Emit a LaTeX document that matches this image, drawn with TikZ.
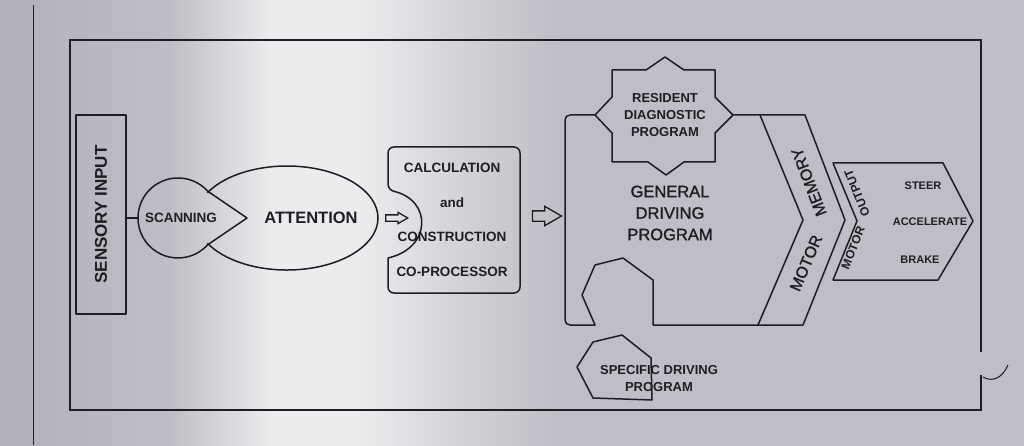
\documentclass[tikz,border=0pt]{standalone}
\usepackage{fontspec}
\setmainfont{Liberation Sans}
\newfontfamily\semibold{Liberation Sans}[FakeBold=1.3]
\usepackage{xcolor}
\usepackage{tikz}
\usetikzlibrary{positioning}
\usetikzlibrary{shapes.arrows}

\definecolor{ink}{RGB}{30,30,34}
\definecolor{bgA}{RGB}{176,176,186}
\definecolor{bgB}{RGB}{190,190,198}
\definecolor{bgC}{RGB}{236,236,238}
\definecolor{bgD}{RGB}{210,210,216}
\definecolor{bgE}{RGB}{190,190,198}

\tikzset{
  outline/.style={draw=ink, line width=1.5pt, line join=round},
  lbl/.style={text=ink, inner sep=0pt, align=center},
  hollow/.style={single arrow, draw=ink, line width=1.3pt, inner xsep=0pt, single arrow tip angle=60}
}

\begin{document}
\begin{tikzpicture}[x=1pt,y=1pt]
\useasboundingbox (0,0) rectangle (1024,445);

% Draw background
\fill[bgE] (-10,-10) rectangle (1034,455);
\shade[left color=bgA, right color=bgB] (-10,-10) rectangle (171,455);
\shade[left color=bgB, right color=bgC] (170,-10) rectangle (271,455);
\fill[bgC] (270,-10) rectangle (361,455);
\shade[left color=bgC, right color=bgD] (360,-10) rectangle (461,455);
\shade[left color=bgD, right color=bgE] (460,-10) rectangle (561,455);

% page edge and frame
\draw[ink, line width=1pt] (33,0) -- (33,440);
\draw[ink, line width=1.2pt] (981,93) -- (981,405) -- (70,405) -- (70,35) -- (981,35) -- (981,70);
\draw[ink, line width=1pt] (983,68) .. controls (993,62) and (1003,68) .. (1008,80);

% sensory input and scanning
\node[outline, lbl, rotate=90, minimum width=199pt, minimum height=50pt,
      font=\bfseries\fontsize{17}{20}\selectfont] (sensory) at (101,230.5) {SENSORY INPUT};
\coordinate (scanW) at (138,227);
\draw[outline] (247,227) -- (207.7,253.8) arc[start angle=42, end angle=318, radius=40] -- cycle;
\draw[outline] (sensory.south |- scanW) -- (scanW);
\node[lbl, font=\bfseries\fontsize{13.5}{16}\selectfont] (scan) at (181,227) {SCANNING};

% attention
\draw[outline] (207.4,252.2) arc[start angle=151, end angle=-151, x radius=91, y radius=52];
\node[lbl, font=\bfseries\fontsize{16.5}{20}\selectfont] (attn) at (311,227) {ATTENTION};

% arrows
\node[hollow, minimum height=22pt, inner ysep=2.5pt, single arrow head extend=2.5pt] (arrA) at (394,227) {};
\node[hollow, minimum height=29pt, inner ysep=4.5pt, single arrow head extend=4.5pt] (arrB) at (542.5,229) {};

% co-processor
\draw[outline] (388,255) .. controls (432,245) and (432,197) .. (388,187)
  [rounded corners=6pt] -- (388,152) -- (520,152) -- (520,298) -- (388,298) -- cycle;
\node[lbl, font=\bfseries\fontsize{13.5}{34.7}\selectfont] (calc) at (452,225)
  {CALCULATION\\and\\CONSTRUCTION\\CO-PROCESSOR};

% general driving program
\draw[outline] (595,330) [rounded corners=5pt] -- (565,330) -- (565,120) [sharp corners] -- (595,120)
  -- (582,150) -- (595,180) -- (623,187) -- (653,165) -- (653,120) -- (758,120)
  -- (803,225) -- (760,330) -- (733,330);
\node[lbl, font=\semibold\fontsize{16.5}{21.5}\selectfont] (general) at (670,232) {GENERAL\\DRIVING\\PROGRAM};

% resident diagnostic star
\draw[outline] (612,375) -- (646,375) -- (665,388) -- (684,375) -- (715,375) -- (715,348)
  -- (733,330) -- (715,312) -- (715,283) -- (684,283) -- (666,270) -- (648,283)
  -- (612,283) -- (612,312) -- (595,330) -- (612,348) -- cycle;
\node[lbl, font=\bfseries\fontsize{13}{17}\selectfont] (diag) at (665,330) {RESIDENT\\DIAGNOSTIC\\PROGRAM};

% specific driving program
\draw[outline] (577,78) -- (593,103) -- (622,110) -- (651,87) -- (652,45) -- (593,47) -- cycle;
\node[lbl, font=\bfseries\fontsize{13}{17}\selectfont] (specific) at (659,66.5) {SPECIFIC DRIVING\\PROGRAM};

% motor memory
\draw[outline] (760,330) -- (805,330) -- (845,225) -- (803,120) -- (758,120);
\node[lbl, rotate=111, font=\semibold\fontsize{16}{19}\selectfont] (memory) at (809,263) {MEMORY};
\node[lbl, rotate=67, font=\semibold\fontsize{16}{19}\selectfont] (motorA) at (806,182) {MOTOR};

% motor output
\draw[outline] (833,282) -- (943,282) -- (973,224) -- (938,165) -- (833,165) -- (857,224) -- cycle;
\node[lbl, rotate=112, font=\bfseries\fontsize{12}{14}\selectfont] (output) at (857,252) {OUTPUT};
\node[lbl, rotate=68, font=\bfseries\fontsize{12}{14}\selectfont] (motorB) at (853,197) {MOTOR};
\node[lbl, font=\bfseries\fontsize{11}{13}\selectfont] (steer) at (923,259) {STEER};
\node[lbl, font=\bfseries\fontsize{11}{13}\selectfont] (accel) at (930,223) {ACCELERATE};
\node[lbl, font=\bfseries\fontsize{11}{13}\selectfont] (brake) at (920,185) {BRAKE};
\end{tikzpicture}
\end{document}
